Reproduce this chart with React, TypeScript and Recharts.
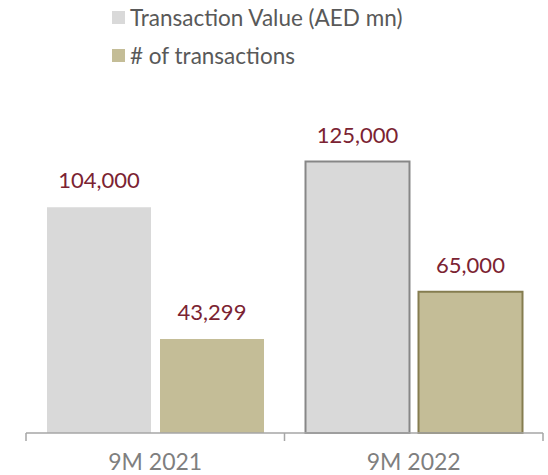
import { Bar, BarChart, Cell, LabelList, Legend, XAxis, YAxis } from "recharts";

const periods = ["9M 2021", "9M 2022"];
const transactionValue = [104000, 125000];
const transactionCount = [43299, 65000];
const seriesNames = ["Transaction Value (AED mn)", "# of transactions"];

const W = 548;
const H = 475;
const MARGIN = { top: 129, right: 5, bottom: 0, left: 26 };
const FONT = "Lato, 'Open Sans', sans-serif";
const BAND = (W - MARGIN.left - MARGIN.right) / periods.length;

const GRAY = "#d9d9d9";
const TAN = "#c4bd97";
const LABEL_RED = "#7b2332";

const data = periods.map((p, i) => ({
  period: p,
  value: transactionValue[i],
  count: transactionCount[i],
}));

const fmt = (v: number) => v.toLocaleString("en-US");

function PeriodTick(props: any) {
  const { x, y, payload, index, visibleTicksCount } = props;
  const left = x - BAND / 2;
  const right = x + BAND / 2;
  return (
    <g>
      <line x1={left} y1={y} x2={left} y2={y + 8} stroke="#a6a6a6" strokeWidth={1.5} />
      {index === visibleTicksCount - 1 && (
        <line x1={right} y1={y} x2={right} y2={y + 8} stroke="#a6a6a6" strokeWidth={1.5} />
      )}
      <text x={x} y={y + 37} textAnchor="middle" fill="#7f7f7f" fontSize={23} fontFamily={FONT}>
        {payload.value}
      </text>
    </g>
  );
}

function LegendBox() {
  const colors = [GRAY, TAN];
  return (
    <div style={{ fontFamily: FONT, fontSize: 22.5, color: "#595959" }}>
      {seriesNames.map((name, i) => (
        <div key={name} style={{ display: "flex", alignItems: "center", height: 38 }}>
          <span style={{ width: 13, height: 13, background: colors[i], marginRight: 5, display: "inline-block" }} />
          <span>{name}</span>
        </div>
      ))}
    </div>
  );
}

export default function App() {
  return (
    <div style={{ position: "absolute", left: 0, top: 0, width: W, height: H, background: "#fff" }}>
      <BarChart width={W} height={H} data={data} margin={MARGIN} barSize={104} barGap={9}>
        <XAxis
          dataKey="period"
          height={42}
          tickLine={false}
          tickSize={0}
          tickMargin={0}
          axisLine={{ stroke: "#a6a6a6", strokeWidth: 1.5 }}
          tick={<PeriodTick />}
          interval={0}
        />
        <YAxis hide domain={[0, 140000]} />
        <Legend
          layout="vertical"
          align="center"
          verticalAlign="middle"
          content={<LegendBox />}
          wrapperStyle={{ top: -2, left: 112, width: 420 }}
        />
        <Bar dataKey="value" name={seriesNames[0]} fill={GRAY} isAnimationActive={false}>
          {data.map((d, i) => (
            <Cell key={d.period} fill={GRAY} stroke={i === 1 ? "#878787" : "none"} strokeWidth={2} />
          ))}
          <LabelList dataKey="value" position="top" offset={19} formatter={fmt} fill={LABEL_RED} fontSize={22} fontFamily={FONT} />
        </Bar>
        <Bar dataKey="count" name={seriesNames[1]} fill={TAN} isAnimationActive={false}>
          {data.map((d, i) => (
            <Cell key={d.period} fill={TAN} stroke={i === 1 ? "#857d50" : "none"} strokeWidth={2} />
          ))}
          <LabelList dataKey="count" position="top" offset={19} formatter={fmt} fill={LABEL_RED} fontSize={22} fontFamily={FONT} />
        </Bar>
      </BarChart>
    </div>
  );
}
